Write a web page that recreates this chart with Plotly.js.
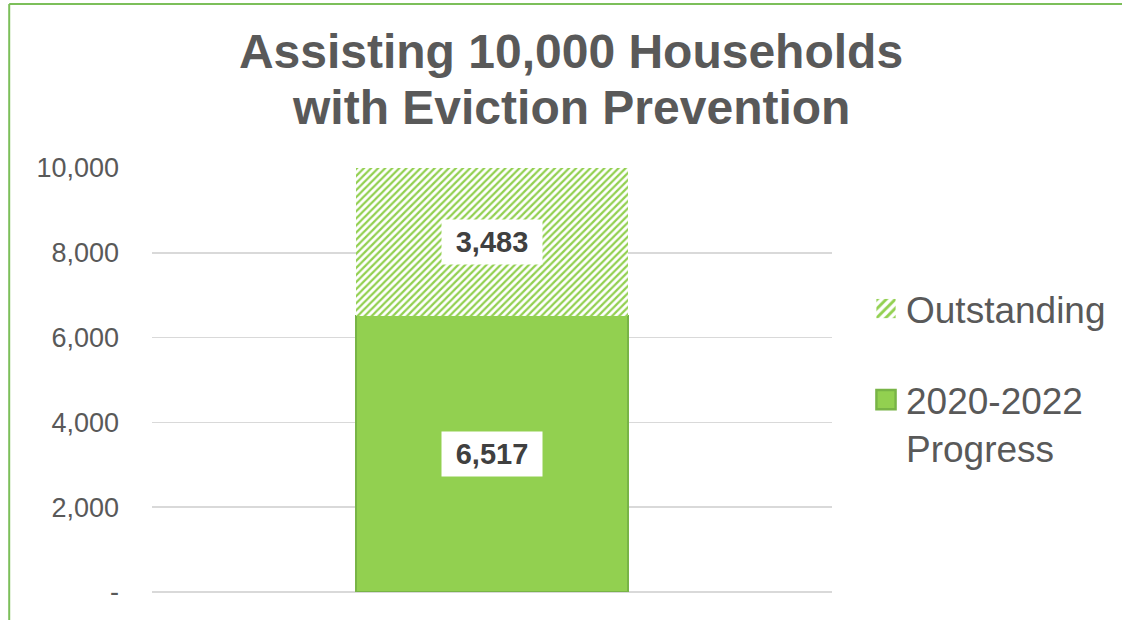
<!DOCTYPE html>
<html>
<head>
<meta charset="utf-8">
<script src="https://cdn.plot.ly/plotly-3.0.1.min.js"></script>
<style>
  html, body { margin: 0; padding: 0; background: #fff; }
  #chart { width: 1122px; height: 620px; }
</style>
</head>
<body>
<div id="chart"></div>
<script>
const categories = ["Households"];
const progressValues = [6517];
const outstandingValues = [3483];
const seriesNames = ["2020-2022<br>Progress", "Outstanding"];
const tickValues = [0, 2000, 4000, 6000, 8000, 10000];
const tickLabels = ["-", "2,000", "4,000", "6,000", "8,000", "10,000"];
const titleLines = ["Assisting 10,000 Households", "with Eviction Prevention"];

const fmt = v => v.toLocaleString("en-US");

const traces = [
  {
    type: "bar",
    x: categories,
    y: progressValues,
    name: seriesNames[0],
    legendgroup: "progress",
    legendrank: 2,
    marker: { color: "#92d050", line: { color: "#78b446", width: 1.5 } },
    hoverinfo: "skip"
  },
  {
    type: "bar",
    x: categories,
    y: outstandingValues,
    name: seriesNames[1],
    legendgroup: "outstanding",
    legendrank: 1,
    marker: {
      color: "#ffffff",
      line: { width: 0 },
      pattern: { shape: "/", fgcolor: "#92d050", bgcolor: "#ffffff", size: 5, solidity: 0.45 }
    },
    hoverinfo: "skip"
  }
];

const L = 152, R = 289, T = 168, B = 28, W = 1122, H = 620;
const pw = W - L - R, ph = H - T - B;
const px = x => (x - L) / pw;
const py = y => (H - B - y) / ph;
const borderColor = "#7cbf5a";
const titleFont = { family: "Liberation Sans, Arial", size: 48, color: "#595959" };

const annotations = [];
categories.forEach((c, i) => {
  annotations.push({
    x: c, y: progressValues[i] / 2, xref: "x", yref: "y",
    text: "<b>" + fmt(progressValues[i]) + "</b>",
    showarrow: false, bgcolor: "#ffffff", width: 98, height: 42,
    font: { family: "Liberation Sans, Arial", size: 29, color: "#404040" }
  });
  annotations.push({
    x: c, y: progressValues[i] + outstandingValues[i] / 2, xref: "x", yref: "y",
    text: "<b>" + fmt(outstandingValues[i]) + "</b>",
    showarrow: false, bgcolor: "#ffffff", width: 98, height: 42,
    font: { family: "Liberation Sans, Arial", size: 29, color: "#404040" }
  });
});
// second title line
annotations.push({
  xref: "paper", yref: "paper", x: px(572), y: py(108), xanchor: "center", yanchor: "middle",
  text: "<b>" + titleLines[1] + "</b>", showarrow: false, font: titleFont
});

const layout = {
  width: W, height: H,
  margin: { l: L, r: R, t: T, b: B, pad: 0 },
  paper_bgcolor: "#ffffff",
  plot_bgcolor: "#ffffff",
  barmode: "stack",
  bargap: 0.6,
  font: { family: "Liberation Sans, Arial", color: "#595959" },
  title: {
    text: "<b>" + titleLines[0] + "</b>",
    xref: "container", yref: "container",
    x: 571 / W, xanchor: "center",
    y: 1 - 51 / H, yanchor: "middle",
    font: titleFont
  },
  xaxis: {
    range: [-0.5, 0.5],
    showticklabels: false, showgrid: false, zeroline: false, showline: false, ticks: ""
  },
  yaxis: {
    range: [0, 10000],
    tickvals: tickValues, ticktext: tickLabels,
    tickfont: { family: "Liberation Sans, Arial", size: 27, color: "#595959" },
    ticklabelstandoff: 32,
    showgrid: true, gridcolor: "#d9d9d9", gridwidth: 1.5,
    zeroline: true, zerolinecolor: "#d9d9d9", zerolinewidth: 1.5,
    showline: false, ticks: ""
  },
  legend: {
    x: px(866), xanchor: "left",
    y: py(278), yanchor: "top",
    traceorder: "grouped",
    tracegroupgap: 40,
    valign: "top",
    font: { family: "Liberation Sans, Arial", size: 37, color: "#595959" },
    bgcolor: "rgba(0,0,0,0)"
  },
  annotations: annotations,
  shapes: [
    { type: "line", xref: "paper", yref: "paper", x0: px(9), x1: px(1130), y0: py(4), y1: py(4),
      line: { color: borderColor, width: 2 } },
    { type: "line", xref: "paper", yref: "paper", x0: px(9), x1: px(9), y0: py(4), y1: py(630),
      line: { color: borderColor, width: 2 } }
  ],
  showlegend: true
};

Plotly.newPlot("chart", traces, layout, { displayModeBar: false, staticPlot: true }).then(gd => {
  gd.querySelectorAll(".legend .legendpoints path").forEach(p => {
    const t = p.getAttribute("transform") || "";
    p.setAttribute("transform", t + " scale(1.6)");
  });
});
</script>
</body>
</html>
